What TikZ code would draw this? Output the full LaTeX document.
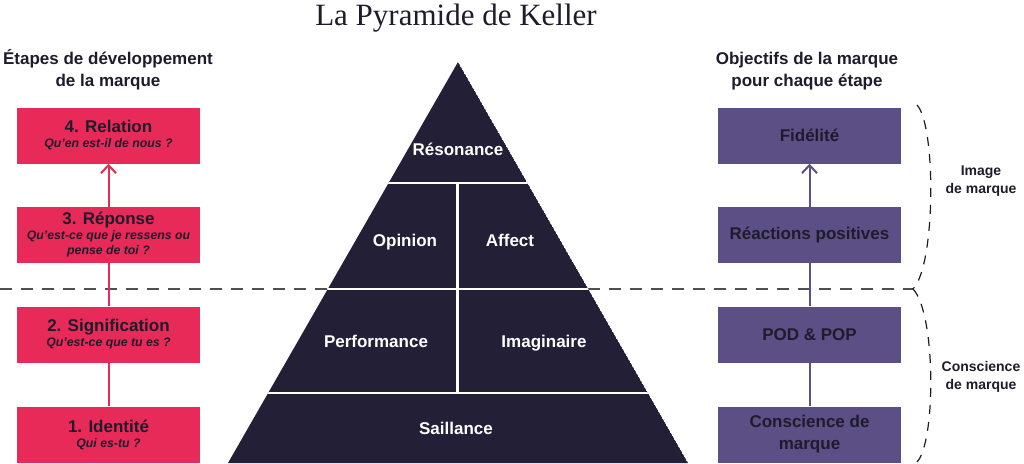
\documentclass[tikz,border=0pt]{standalone}
\usepackage{fontspec}
\setmainfont{Liberation Sans}
\newfontfamily\titlefont{Liberation Serif}
\usetikzlibrary{arrows.meta, positioning, calc}
\definecolor{kellerpink}{RGB}{232, 42, 88}
\definecolor{kellerpurple}{RGB}{92, 79, 133}
\definecolor{kellernavy}{RGB}{34, 31, 54}
\definecolor{kellerink}{RGB}{30, 28, 44}
\definecolor{kellerdash}{RGB}{78, 78, 86}
\newcommand{\etapefont}{\fontsize{17}{17}\selectfont\upshape}
\newcommand{\questionfont}{\fontsize{12.3}{15}\selectfont\bfseries\itshape}
\tikzset{
  etape/.style={fill=kellerpink, minimum width=183pt, minimum height=56pt, inner sep=0pt, align=center, text=kellerink, font=\questionfont},
  objectif/.style={fill=kellerpurple, minimum width=183pt, minimum height=56pt, inner sep=0pt, align=center, text=kellerink, font=\fontsize{17}{22}\selectfont\bfseries},
  niveau/.style={text=white, font=\fontsize{17}{20}\selectfont\bfseries, text height=12.2pt, text depth=0pt, inner sep=0pt},
  entete/.style={text=kellerink, align=center, font=\fontsize{17}{22}\selectfont\bfseries},
  cote/.style={text=kellerink, align=center, font=\fontsize{14}{18}\selectfont\bfseries},
  lien/.style={line width=2pt},
  tirets/.style={draw=kellerdash, line width=1.4pt, dash pattern=on 12pt off 9pt},
}

\begin{document}
\begin{tikzpicture}[x=1pt, y=-1pt]
  \useasboundingbox (0,0) rectangle (1024,463);

  % titre
  \node[anchor=base, text=kellerink, font=\titlefont\fontsize{31}{31}\selectfont] (titre) at (456,25) {La Pyramide de Keller};

  % en-tetes des colonnes
  \node[entete] (gauche) at (108,70) {Étapes de développement\\de la marque};
  \node[entete] (droite) at (807,71) {Objectifs de la marque\\pour chaque étape};

  % separation image / conscience
  \coordinate (sepg) at (0,289);
  \coordinate (sepd) at (913,289);
  \draw[tirets] (sepg) -- (sepd);

  % pyramide
  \coordinate (sommet) at (458,62);
  \coordinate (basegauche) at (228,463);
  \coordinate (basedroite) at (688,463);
  \begin{scope}
    \clip (sommet) -- (basegauche) -- (basedroite) -- cycle;
    \fill[kellernavy] (sommet) -- (basegauche) -- (basedroite) -- cycle;
    \draw[white, line width=2.5pt] (200,183) -- (720,183);
    \draw[white, line width=2.5pt] (200,289) -- (720,289);
    \draw[white, line width=2.5pt] (200,393) -- (720,393);
    \draw[white, line width=2.5pt] (457.5,183) -- (457.5,393);
  \end{scope}
  \node[niveau] (resonance) at (458,149) {Résonance};
  \node[niveau] (opinion) at (405,240) {Opinion};
  \node[niveau] (affect) at (510,240) {Affect};
  \node[niveau] (performance) at (376,341) {Performance};
  \node[niveau] (imaginaire) at (544,341) {Imaginaire};
  \node[niveau] (saillance) at (456,428) {Saillance};

  % etapes de developpement
  \node[etape] (relation) at (108.5,135.5) {{\etapefont 4. Relation}\\Qu'en est-il de nous ?};
  \node[etape] (reponse) at (108.5,235) {{\etapefont 3. Réponse}\\Qu'est-ce que je ressens ou\\pense de toi ?};
  \node[etape] (signification) at (108.5,334.5) {{\etapefont 2. Signification}\\Qu'est-ce que tu es ?};
  \node[etape] (identite) at (108.5,434.5) {{\etapefont 1. Identité}\\Qui es-tu ?};
  \draw[lien, kellerpink, -{Straight Barb[length=8pt, width=15pt]}] (reponse) -- (relation);
  \draw[lien, kellerpink] (reponse) -- (signification);
  \draw[lien, kellerpink] (signification) -- (identite);

  % objectifs de la marque
  \node[objectif] (fidelite) at (809.5,135.5) {Fidélité};
  \node[objectif] (reactions) at (809.5,235) {Réactions positives};
  \node[objectif] (podpop) at (809.5,334.5) {POD \& POP};
  \node[objectif] (conscience) at (809.5,434.5) {Conscience de\\marque};
  \draw[lien, kellerpurple, -{Straight Barb[length=8pt, width=15pt]}] (reactions) -- (fidelite);
  \draw[lien, kellerpurple] (reactions) -- (podpop);
  \draw[lien, kellerpurple] (podpop) -- (conscience);

  % accolades
  \coordinate (accolhaut) at (917,105);
  \coordinate (accolbas) at (917,462);
  \draw[kellerink, line width=1.2pt, dash pattern=on 9pt off 8pt] (accolhaut) .. controls (936,125) and (936,265) .. (sepd);
  \draw[kellerink, line width=1.2pt, dash pattern=on 9pt off 8pt] (sepd) .. controls (936,313) and (936,442) .. (accolbas);
  \node[cote] (image) at (981,181) {Image\\de marque};
  \node[cote] (consc) at (981,377) {Conscience\\de marque};
\end{tikzpicture}
\end{document}
